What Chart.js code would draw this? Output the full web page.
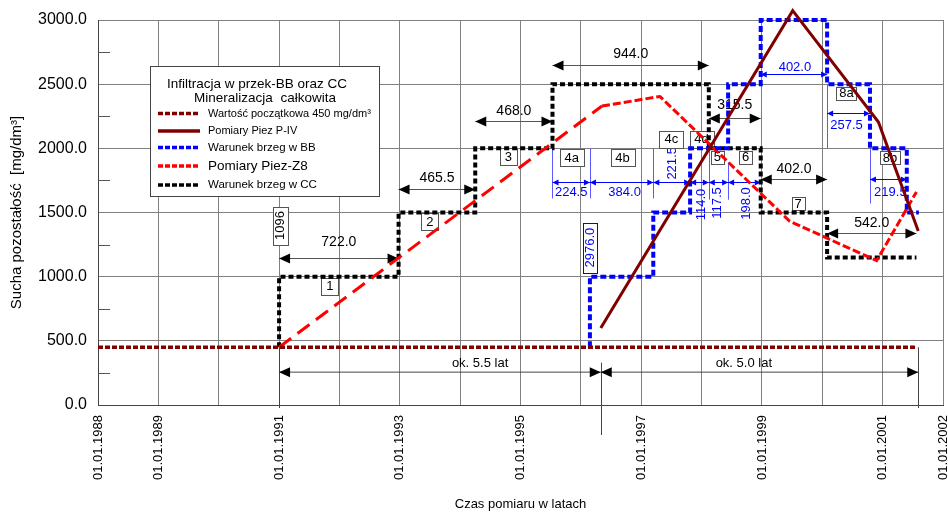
<!DOCTYPE html>
<html><head><meta charset="utf-8">
<script src="https://cdn.jsdelivr.net/npm/chart.js@4/dist/chart.umd.min.js"></script>
<style>html,body{margin:0;padding:0;background:#fff}</style>
</head><body>
<canvas id="c" width="948" height="512"></canvas>
<script>
// ---------------- DATA ----------------
const xTickYears = [1988, 1989, 1991, 1993, 1995, 1997, 1999, 2001, 2002];
const baseX = [1988.0, 2001.57];
const baseY = [450, 450];
const pivX = [1996.33, 1999.51, 2000.93, 2001.59];
const pivY = [600, 3073, 2205, 1355];
const z8X = [1991.0, 1996.35, 1997.31, 1999.46, 2000.90, 2001.56];
const z8Y = [450, 2330, 2404, 1432, 1125, 1660];
const bbX = [1996.15, 1996.15, 1997.20, 1997.81, 1998.44, 1998.98, 2000.08, 2000.79, 2001.40, 2001.60];
const bbY = [450, 1000, 1500, 2000, 2500, 3000, 2500, 2000, 1500, 1500];
const ccX = [1991.00, 1991.00, 1992.98, 1994.25, 1995.53, 1998.12, 1998.98, 2000.08, 2001.56];
const ccY = [450, 1000, 1500, 2000, 2500, 2000, 1500, 1150, 1150];
const ccDays = ['722.0', '465.5', '468.0', '944.0', '315.5', '402.0', '542.0'];
const bbDays = ['224.5', '384.0', '221.5', '114.0', '117.5', '198.0', '402.0', '257.5', '219.5'];
const stageLabels = ['1', '2', '3', '4a', '4b', '4c', '4d', '5', '6', '7', '8a', '8b'];
const startDays = ['1096', '2976.0'];
const periodLabels = ['ok. 5.5 lat', 'ok. 5.0 lat'];
const seriesNames = ['Wartość początkowa 450 mg/dm³', 'Pomiary Piez P-IV', 'Warunek brzeg w BB', 'Pomiary Piez-Z8', 'Warunek brzeg w CC'];
const legendTitle = ['Infiltracja w przek-BB oraz CC', 'Mineralizacja  całkowita'];

// ---------------- helpers ----------------
const pts = (xs, ys) => xs.map((v, i) => ({x: v, y: ys[i]}));
const FF = '"Liberation Sans", Arial, sans-serif';
const DARK = '#800000', RED = '#ff0000', BLUE = '#0000ff';

// annotation placement (data coordinates), built from the arrays above
const ccDimY = [1146, 1685, 2213, 2648, 2234, 1758, 1343];
const ccDimDy = [-16, -11, -10, -11, -13, -10, -10];
const bbEdges = [ccX[4], bbX[1], bbX[2], bbX[3], ccX[5], bbX[4], bbX[5]];
const bbDimPlace = [
  {y: 1737, rot: false, dx: 0, dy: 10},
  {y: 1737, rot: false, dx: 3, dy: 10},
  {y: 1737, rot: true, dx: 1, ty: 1883},
  {y: 1737, rot: true, dx: 2, ty: 1562},
  {y: 1737, rot: true, dx: -1, ty: 1574},
  {y: 1737, rot: true, dx: 2, ty: 1570},
  {y: 2578, rot: false, dx: 1, dy: -7},
  {y: 2279, rot: false, dx: -2, dy: 12},
  {y: 1758, rot: false, dx: 2, dy: 13}
];
const stagePos = [[1991.84, 924, 1], [1993.50, 1426, 1], [1994.80, 1934, 1], [1995.85, 1927, 1], [1996.69, 1927, 1],
  [1997.50, 2070, 1], [1998.00, 2070, 1], [1998.26, 1930, 0], [1998.73, 1930, 0], [1999.60, 1570, 0],
  [2000.40, 2430, 0], [2001.12, 1927, 0]];

function head(ctx, tx, ty, dir, len, half) {
  ctx.beginPath();
  ctx.moveTo(tx, ty);
  ctx.lineTo(tx - dir * len, ty - half);
  ctx.lineTo(tx - dir * len, ty + half);
  ctx.closePath();
  ctx.fill();
}
function dim(ctx, x1, x2, yy, color, lineColor, len, half) {
  ctx.strokeStyle = lineColor; ctx.fillStyle = color; ctx.lineWidth = 1; ctx.setLineDash([]);
  ctx.beginPath(); ctx.moveTo(x1, yy + 0.5); ctx.lineTo(x2, yy + 0.5); ctx.stroke();
  head(ctx, x1, yy + 0.5, -1, len, half);
  head(ctx, x2, yy + 0.5, 1, len, half);
}
function txt(ctx, t, cx, cy, font, color, rot) {
  ctx.save();
  ctx.font = font; ctx.fillStyle = color; ctx.textAlign = 'center'; ctx.textBaseline = 'middle';
  ctx.translate(cx, cy);
  if (rot) ctx.rotate(-Math.PI / 2);
  ctx.fillText(t, 0, 0);
  ctx.restore();
}
function vline(ctx, x, y1, y2, color, w) {
  ctx.strokeStyle = color; ctx.lineWidth = w || 1; ctx.setLineDash([]);
  ctx.beginPath(); ctx.moveTo(Math.round(x) + 0.5, y1); ctx.lineTo(Math.round(x) + 0.5, y2); ctx.stroke();
}

const annot = {
  id: 'annot',
  beforeDatasetsDraw(chart) {
    const {ctx, scales: {x, y}, chartArea} = chart;
    const X = v => x.getPixelForValue(v), Y = v => y.getPixelForValue(v);
    ctx.save();
    // minor inner ticks on Y axis
    ctx.strokeStyle = '#555'; ctx.lineWidth = 1;
    for (let v = 250; v < 3000; v += 500) {
      ctx.beginPath(); ctx.moveTo(chartArea.left, Math.round(Y(v)) + 0.5); ctx.lineTo(chartArea.left + 12, Math.round(Y(v)) + 0.5); ctx.stroke();
    }
    // extension lines for period arrows
    vline(ctx, X(ccX[0]), Y(baseY[0]), chartArea.bottom + 3, '#444');
    vline(ctx, X(pivX[0]), Y(330), chartArea.bottom + 30, '#444');
    vline(ctx, X(pivX[3]), Y(baseY[0]), chartArea.bottom + 3, '#444');
    // period arrows
    const py = Y(260);
    dim(ctx, X(ccX[0]), X(pivX[0]), py, '#000', '#444', 11, 5);
    dim(ctx, X(pivX[0]), X(pivX[3]), py, '#000', '#444', 11, 5);
    txt(ctx, periodLabels[0], X(1994.33), py - 8, '13px ' + FF, '#000');
    txt(ctx, periodLabels[1], X(1998.70), py - 8, '13px ' + FF, '#000');

    // CC duration arrows
    for (let i = 0; i < ccDays.length; i++) {
      const x1 = X(ccX[i + 1]), x2 = X(ccX[i + 2]), yy = Math.round(Y(ccDimY[i]));
      dim(ctx, x1, x2, yy, '#000', '#555', 11, 5);
      txt(ctx, ccDays[i], (x1 + x2) / 2, yy + ccDimDy[i], '14px ' + FF, '#000');
    }

    // BB blue extension lines
    const ext = (xv, v1, v2) => vline(ctx, X(xv), Y(v1), Y(v2), '#5a5aff');
    ext(ccX[4], 2000, 1610); ext(bbX[1], 2000, 1610); ext(bbX[2], 2000, 1610);
    ext(ccX[5], 2000, 1600); ext(bbX[4], 1890, 1600);
    ext(bbX[6], 2500, 2000); ext(bbX[7], 2000, 1570);
    // BB duration arrows
    const bbPairs = [];
    for (let i = 0; i < 6; i++) bbPairs.push([bbEdges[i], bbEdges[i + 1]]);
    bbPairs.push([bbX[5], bbX[6]], [bbX[6], bbX[7]], [bbX[7], bbX[8]]);
    bbPairs.forEach((p, i) => {
      const pl = bbDimPlace[i];
      const x1 = X(p[0]), x2 = X(p[1]), yy = Math.round(Y(pl.y));
      dim(ctx, x1, x2, yy, BLUE, BLUE, 6, 3);
      const cx = (x1 + x2) / 2 + pl.dx;
      if (pl.rot) txt(ctx, bbDays[i], cx, Y(pl.ty), '13px ' + FF, BLUE, true);
      else txt(ctx, bbDays[i], cx, yy + pl.dy, '13px ' + FF, BLUE);
    });

    // stage boxes
    ctx.font = '13px ' + FF;
    stageLabels.forEach((s, i) => {
      const [xv, yv, big] = stagePos[i];
      const cx = X(xv), cy = Y(yv);
      const w = Math.round(ctx.measureText(s).width + (big ? 10 : 6));
      const h = big ? 17 : 13;
      const l = Math.round(cx - w / 2) + 0.5, t = Math.round(cy - h / 2) + 0.5;
      ctx.fillStyle = '#fff'; ctx.fillRect(l, t, w, h);
      ctx.strokeStyle = '#555'; ctx.lineWidth = 1; ctx.setLineDash([]); ctx.strokeRect(l, t, w, h);
      txt(ctx, s, cx, cy + 0.5, '13px ' + FF, '#000');
    });
    // start-day vertical boxes
    const vbox = (s, xv, yv, w, h, col, border) => {
      const cx = X(xv), cy = Y(yv);
      const l = Math.round(cx - w / 2) + 0.5, t = Math.round(cy - h / 2) + 0.5;
      ctx.fillStyle = '#fff'; ctx.fillRect(l, t, w, h);
      ctx.strokeStyle = border; ctx.lineWidth = 1; ctx.strokeRect(l, t, w, h);
      txt(ctx, s, cx + 0.5, cy, '13px ' + FF, col, true);
    };
    vbox(startDays[0], ccX[0] + 0.02, 1398, 15, 38, '#000', '#555');
    vbox(startDays[1], bbX[0], 1227, 14, 50, BLUE, BLUE);
    ctx.restore();
  },
  afterDraw(chart) {
    const {ctx} = chart;
    ctx.save();
    const L = 150.5, T = 66.5, W = 229, H = 130;
    ctx.fillStyle = '#fff'; ctx.fillRect(L, T, W, H);
    ctx.strokeStyle = '#444'; ctx.lineWidth = 1; ctx.setLineDash([]); ctx.strokeRect(L, T, W, H);
    txt(ctx, legendTitle[0], 257, 84, '13.5px ' + FF, '#000');
    txt(ctx, legendTitle[1], 265, 98.5, '13.5px ' + FF, '#000');
    const rowsY = [113.5, 131, 147.5, 166, 185];
    const fonts = [11, 11, 11.5, 13.5, 11.5];
    chart.data.datasets.forEach((ds, i) => {
      const yy = rowsY[i];
      ctx.strokeStyle = ds.borderColor; ctx.lineWidth = 3.5;
      ctx.setLineDash(ds.borderDash && ds.borderDash.length ? [5, 2] : []);
      ctx.beginPath(); ctx.moveTo(158, yy); ctx.lineTo(200, yy); ctx.stroke();
      ctx.setLineDash([]);
      ctx.font = fonts[i] + 'px ' + FF; ctx.fillStyle = '#000'; ctx.textAlign = 'left'; ctx.textBaseline = 'middle';
      ctx.fillText(ds.label, 208, yy);
    });
    ctx.restore();
  }
};

new Chart(document.getElementById('c'), {
  type: 'line',
  data: {
    datasets: [
      {label: seriesNames[0], data: pts(baseX, baseY), borderColor: DARK, borderWidth: 3.5, borderDash: [5, 2], pointRadius: 0, clip: false},
      {label: seriesNames[1], data: pts(pivX, pivY), borderColor: DARK, borderWidth: 3, borderDash: [], pointRadius: 0, clip: false},
      {label: seriesNames[2], data: pts(bbX, bbY), borderColor: BLUE, borderWidth: 4, borderDash: [6, 3], stepped: true, pointRadius: 0, clip: false},
      {label: seriesNames[3], data: pts(z8X, z8Y), borderColor: RED, borderWidth: 3, borderDash: [8, 3], pointRadius: 0, clip: false,
        segment: {borderDash: c => c.p0DataIndex === 0 ? [15, 8] : [8, 3]}},
      {label: seriesNames[4], data: pts(ccX, ccY), borderColor: '#000', borderWidth: 4, borderDash: [5, 3], stepped: true, pointRadius: 0, clip: false}
    ]
  },
  options: {
    responsive: false,
    devicePixelRatio: 1,
    animation: false,
    layout: {padding: {left: 0, right: 5, top: 20, bottom: 0}},
    plugins: {legend: {display: false}, tooltip: {enabled: false}},
    elements: {line: {tension: 0, borderCapStyle: 'butt'}},
    scales: {
      x: {
        type: 'linear', min: 1988, max: 2002,
        afterFit: s => { s.height = 107; s.paddingLeft = 0; s.paddingRight = 0; },
        grid: {color: '#808080', lineWidth: 1, drawTicks: false},
        border: {color: '#444', width: 1},
        ticks: {
          stepSize: 1, autoSkip: false, maxRotation: 90, minRotation: 90, padding: 10,
          color: '#000', font: {family: FF, size: 13},
          callback: v => xTickYears.includes(v) ? '01.01.' + v : ''
        },
        title: {display: true, text: 'Czas pomiaru w latach', color: '#000', font: {family: FF, size: 13}, padding: {top: 0, bottom: 0}}
      },
      y: {
        min: 0, max: 3000,
        afterFit: s => { s.width = 98; s.paddingTop = 0; s.paddingBottom = 0; },
        grid: {color: c => (c.tick && c.tick.value % 500 === 0) ? '#808080' : 'rgba(0,0,0,0)', lineWidth: 1, drawTicks: false},
        border: {color: '#444', width: 1},
        ticks: {
          stepSize: 250, autoSkip: false, padding: 11, color: '#000', font: {family: FF, size: 16},
          callback: v => v % 500 === 0 ? v.toFixed(1) : ''
        },
        title: {display: true, text: 'Sucha pozostałość  [mg/dm³]', color: '#000', font: {family: FF, size: 15}, padding: {top: 8, bottom: 0}}
      }
    }
  },
  plugins: [annot]
});
</script>
</body></html>
